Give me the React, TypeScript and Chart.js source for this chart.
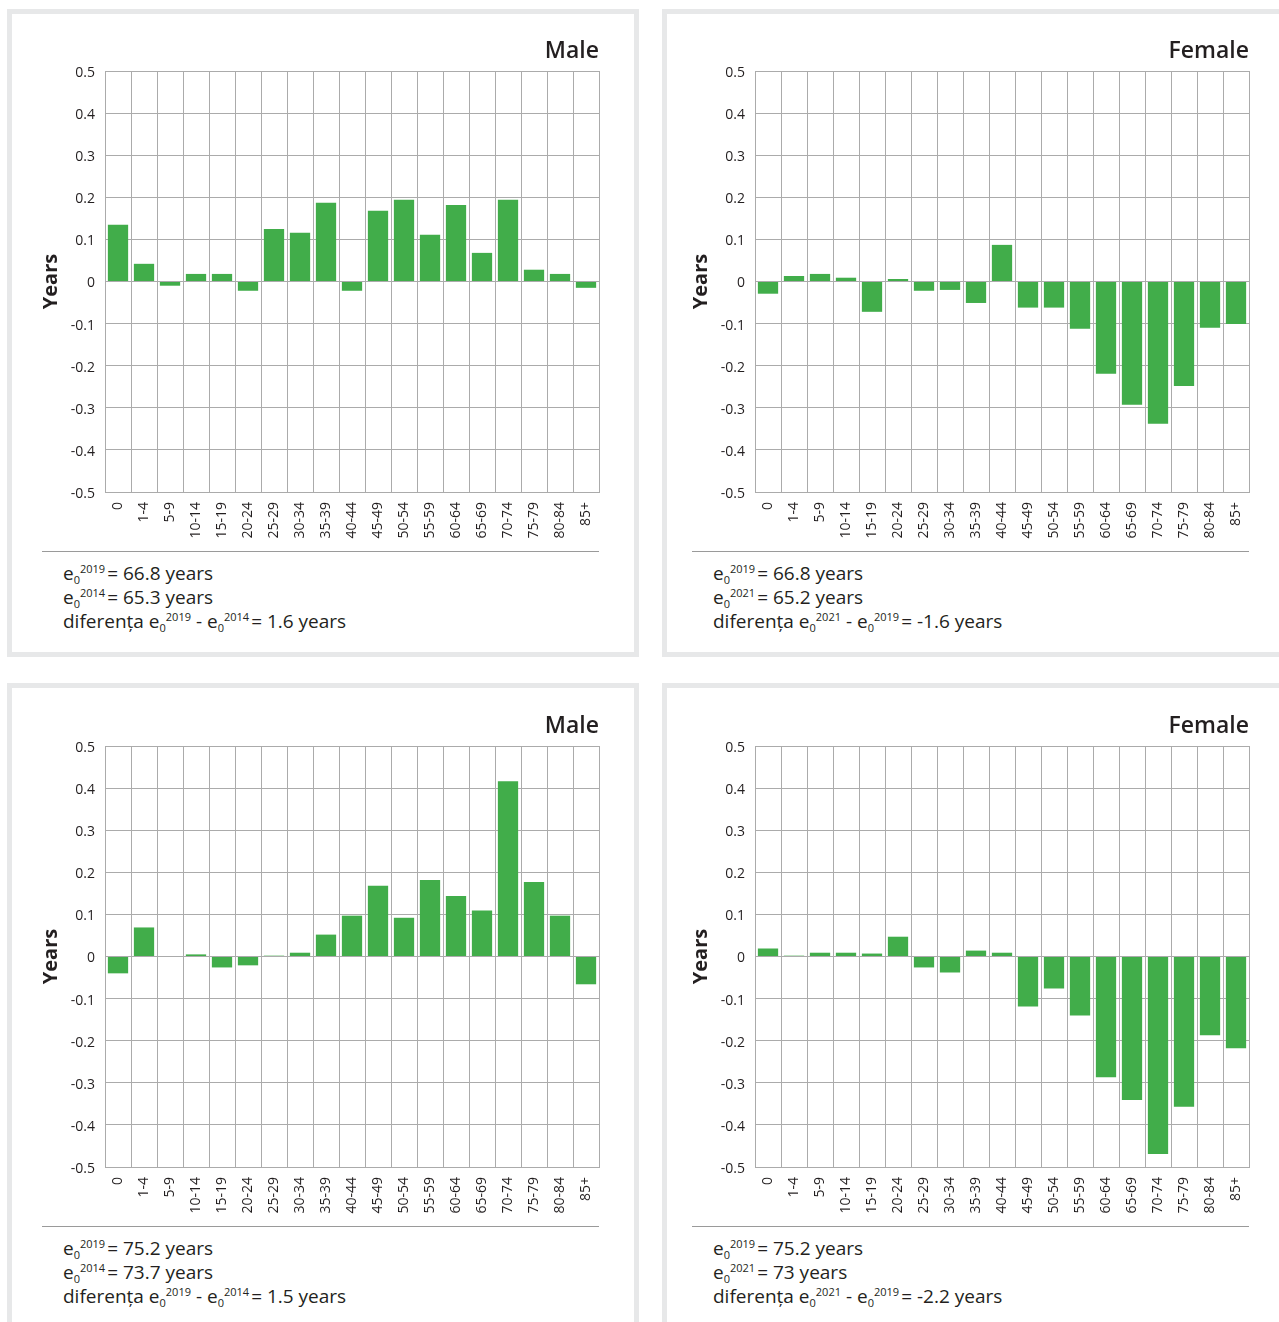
import React, { useEffect, useRef } from 'react';
import { Chart, registerables } from 'chart.js';

Chart.register(...registerables);

// ---------- data ----------
const ageGroups = ['0', '1-4', '5-9', '10-14', '15-19', '20-24', '25-29', '30-34', '35-39', '40-44', '45-49', '50-54', '55-59', '60-64', '65-69', '70-74', '75-79', '80-84', '85+'];

const maleTop = [0.135, 0.042, -0.010, 0.018, 0.018, -0.022, 0.125, 0.116, 0.187, -0.022, 0.168, 0.194, 0.111, 0.182, 0.068, 0.194, 0.028, 0.018, -0.015];
const femaleTop = [-0.029, 0.013, 0.018, 0.009, -0.072, 0.006, -0.022, -0.020, -0.051, 0.087, -0.062, -0.062, -0.112, -0.219, -0.293, -0.338, -0.248, -0.110, -0.101];
const maleBottom = [-0.040, 0.069, 0, 0.005, -0.026, -0.021, 0.002, 0.009, 0.052, 0.097, 0.168, 0.092, 0.182, 0.144, 0.109, 0.416, 0.177, 0.097, -0.066];
const femaleBottom = [0.019, 0.002, 0.009, 0.009, 0.007, 0.047, -0.026, -0.038, 0.014, 0.009, -0.119, -0.076, -0.140, -0.287, -0.341, -0.469, -0.357, -0.187, -0.218];

const panelTitles = ['Male', 'Female', 'Male', 'Female'];
const panelSeries = [maleTop, femaleTop, maleBottom, femaleBottom];

// footer text: [year, value] for line 1 and 2, then difference [yearA, yearB, value]
const line1 = [['2019', '66.8 years'], ['2019', '66.8 years'], ['2019', '75.2 years'], ['2019', '75.2 years']];
const line2 = [['2014', '65.3 years'], ['2021', '65.2 years'], ['2014', '73.7 years'], ['2021', '73 years']];
const line3 = [['2019', '2014', '1.6 years'], ['2021', '2019', '-1.6 years'], ['2019', '2014', '1.5 years'], ['2021', '2019', '-2.2 years']];

const yAxisTitle = 'Years';
const diffWord = 'diferența';

// ---------- style / layout ----------
const GREEN = '#41ad4a';
const GRID = '#ababab';
const TEXT = '#231f20';
const PANEL_BORDER = '#e7e8e9';
const FONT = "'Open Sans', 'Noto Sans', sans-serif";

const plotLefts = [105, 755];
const plotTops = [71, 746];
const borderLefts = [7, 662];
const borderTops = [9, 683];
const PLOT_W = 494;
const PLOT_H = 421;
const CANVAS_LEFT_OFF = 80;
const CANVAS_TOP_OFF = 60;
const CANVAS_W = CANVAS_LEFT_OFF + PLOT_W + 20;
const CANVAS_H = CANVAS_TOP_OFF + PLOT_H + 52;

function fmt(v: number) {
  if (Math.abs(v) < 1e-9) return '0';
  return (Math.round(v * 10) / 10).toFixed(1);
}

const smallStyle = { fontSize: 11, lineHeight: '0px', position: 'relative' as const };

function E0({ year, gap = 2 }: { year: string; gap?: number }) {
  return (
    <span>
      e
      <span style={{ ...smallStyle, top: 4 }}>0</span>
      <span style={{ ...smallStyle, top: -7, marginRight: gap }}>{year}</span>
    </span>
  );
}

function Panel({ index }: { index: number }) {
  const ref = useRef<HTMLCanvasElement | null>(null);
  const col = index % 2;
  const row = Math.floor(index / 2);
  const plotLeft = plotLefts[col];
  const plotTop = plotTops[row];

  useEffect(() => {
    if (!ref.current) return;
    const chart = new Chart(ref.current, {
      type: 'bar',
      data: {
        labels: ageGroups,
        datasets: [
          {
            data: panelSeries[index],
            backgroundColor: GREEN,
            borderWidth: 0,
            barPercentage: 0.78,
            categoryPercentage: 1,
          },
        ],
      },
      options: {
        animation: false,
        responsive: false,
        devicePixelRatio: 1,
        layout: { padding: { left: 14, right: 20, top: 26, bottom: 0 } },
        plugins: {
          legend: { display: false },
          tooltip: { enabled: false },
          title: {
            display: true,
            text: panelTitles[index],
            align: 'end',
            color: TEXT,
            font: { family: FONT, size: 23, weight: '600', lineHeight: '28px' },
            padding: { top: 0, bottom: 6 },
          },
        },
        scales: {
          x: {
            grid: { offset: true, color: GRID, lineWidth: 1, drawTicks: false },
            border: { color: GRID, width: 1 },
            ticks: {
              minRotation: 90,
              maxRotation: 90,
              autoSkip: false,
              padding: 10,
              color: TEXT,
              font: { family: FONT, size: 14 },
            },
            afterFit: (s: any) => {
              s.height = 52;
            },
          },
          y: {
            min: -0.5,
            max: 0.5,
            grid: { color: GRID, lineWidth: 1, drawTicks: false },
            border: { color: GRID, width: 1 },
            ticks: {
              stepSize: 0.1,
              padding: 10,
              labelOffset: 2,
              color: TEXT,
              font: { family: FONT, size: 14 },
              callback: (v: any) => fmt(Number(v)),
            },
            title: {
              display: true,
              text: yAxisTitle,
              color: TEXT,
              font: { family: FONT, size: 20, weight: 'bold', lineHeight: '24px' },
              padding: 0,
            },
            afterFit: (s: any) => {
              s.width = 66;
            },
          },
        },
      },
    } as any);
    return () => chart.destroy();
  }, [index]);

  const l1 = line1[index];
  const l2 = line2[index];
  const l3 = line3[index];

  return (
    <>
      <div
        style={{
          position: 'absolute',
          left: borderLefts[col],
          top: borderTops[row],
          width: 632,
          height: 648,
          border: `5px solid ${PANEL_BORDER}`,
          boxSizing: 'border-box',
        }}
      />
      <canvas
        ref={ref}
        width={CANVAS_W}
        height={CANVAS_H}
        style={{
          position: 'absolute',
          left: plotLeft - CANVAS_LEFT_OFF,
          top: plotTop - CANVAS_TOP_OFF,
          width: CANVAS_W,
          height: CANVAS_H,
        }}
      />
      <div
        style={{
          position: 'absolute',
          left: plotLeft - 63,
          top: plotTop + 480,
          width: 557,
          height: 1,
          background: '#9a9a9a',
        }}
      />
      <div
        style={{
          position: 'absolute',
          left: plotLeft - 42,
          top: plotTop + 490,
          fontFamily: FONT,
          fontSize: 19,
          lineHeight: '24px',
          color: TEXT,
          whiteSpace: 'nowrap',
        }}
      >
        <div>
          <E0 year={l1[0]} />= {l1[1]}
        </div>
        <div>
          <E0 year={l2[0]} />= {l2[1]}
        </div>
        <div>
          {diffWord} <E0 year={l3[0]} gap={0} /> - <E0 year={l3[1]} />= {l3[2]}
        </div>
      </div>
    </>
  );
}

export default function App() {
  return (
    <div
      style={{
        position: 'absolute',
        left: 0,
        top: 0,
        width: 1279,
        height: 1322,
        overflow: 'hidden',
        background: '#ffffff',
      }}
    >
      {[0, 1, 2, 3].map((i) => (
        <Panel key={i} index={i} />
      ))}
    </div>
  );
}
